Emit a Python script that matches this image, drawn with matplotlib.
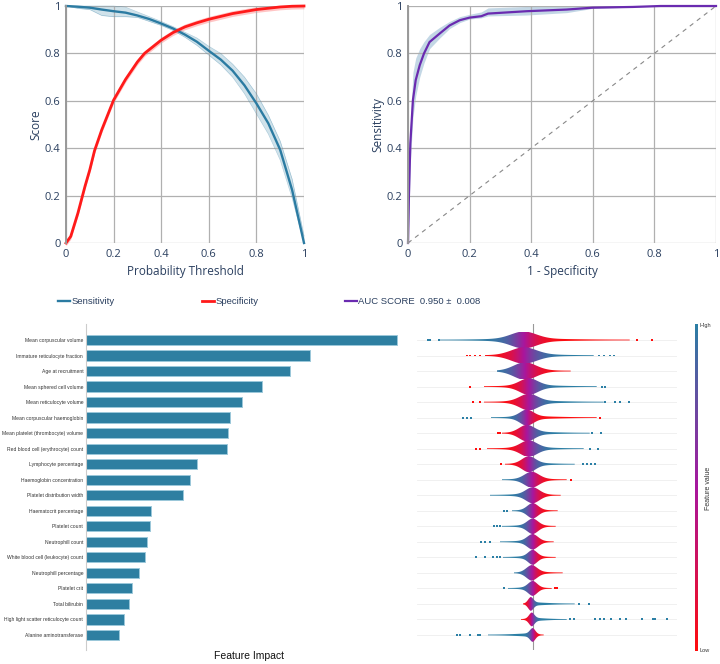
import numpy as np
import matplotlib
matplotlib.use('Agg')
import matplotlib.pyplot as plt
from matplotlib.colors import LinearSegmentedColormap
from matplotlib.patches import Polygon

plt.rcParams['font.family'] = ['Open Sans', 'DejaVu Sans']
NARROW = ['Liberation Sans Narrow', 'Liberation Sans', 'DejaVu Sans']
TXT = '#2a3f5f'

# ---- threshold curves ----
thr = [0, .05, .1, .15, .2, .25, .3, .35, .4, .45, .5, .55, .6, .65, .7, .75, .8, .85, .9, .95, 1]
sens = [1.0, 0.997, 0.993, 0.985, 0.978, 0.972, 0.960, 0.945, 0.926, 0.905, 0.879, 0.849,
        0.811, 0.774, 0.727, 0.665, 0.589, 0.505, 0.393, 0.224, 0.0]
sens_lo = [1.0, 0.99, 0.985, 0.96, 0.955, 0.955, 0.952, 0.935, 0.918, 0.897, 0.868, 0.834,
           0.793, 0.752, 0.70, 0.63, 0.545, 0.46, 0.35, 0.19, 0.0]
sens_hi = [1.0, 1.0, 1.0, 1.0, 1.0, 0.995, 0.975, 0.955, 0.935, 0.913, 0.889, 0.865,
           0.83, 0.80, 0.755, 0.70, 0.63, 0.54, 0.43, 0.27, 0.03]

thr_sp = [0, .02, .05, .08, .1, .12, .15, .2, .25, .3, .33, .4, .45, .5, .55, .6, .7, .8, .9, .95, 1]
spec = [0, 0.028, 0.126, 0.24, 0.309, 0.39, 0.477, 0.603, 0.69, 0.764, 0.80, 0.856, 0.888,
        0.912, 0.929, 0.944, 0.968, 0.985, 0.996, 0.999, 1.0]
spec_err = 0.012

# ---- ROC ----
fpr = [0, 0.003, 0.0076, 0.016, 0.025, 0.038, 0.052, 0.07, 0.103, 0.135, 0.168, 0.2, 0.238,
       0.26, 0.385, 0.515, 0.60, 0.73, 0.82, 1.0]
tpr = [0, 0.2, 0.42, 0.603, 0.687, 0.75, 0.80, 0.848, 0.884, 0.918, 0.94, 0.951, 0.957,
       0.968, 0.978, 0.985, 0.993, 0.996, 1.0, 1.0]
tpr_lo = [0, 0.12, 0.34, 0.53, 0.62, 0.70, 0.76, 0.82, 0.865, 0.905, 0.93, 0.945, 0.95,
          0.958, 0.962, 0.972, 0.99, 0.995, 1.0, 1.0]
tpr_hi = [0, 0.3, 0.5, 0.72, 0.78, 0.82, 0.85, 0.88, 0.91, 0.935, 0.955, 0.965, 0.975,
          0.992, 0.998, 0.998, 0.998, 1.0, 1.0, 1.0]
auc_mean, auc_std = 0.950, 0.008

# ---- feature importance ----
features = ['Mean corpuscular volume', 'Immature reticulocyte fraction', 'Age at recruitment',
            'Mean sphered cell volume', 'Mean reticulocyte volume', 'Mean corpuscular haemoglobin',
            'Mean platelet (thrombocyte) volume', 'Red blood cell (erythrocyte) count',
            'Lymphocyte percentage', 'Haemoglobin concentration', 'Platelet distribution width',
            'Haematocrit percentage', 'Platelet count', 'Neutrophill count',
            'White blood cell (leukocyte) count', 'Neutrophill percentage', 'Platelet crit',
            'Total bilirubin', 'High light scatter reticulocyte count', 'Alanine aminotransferase']
impact = [0.311, 0.224, 0.204, 0.176, 0.156, 0.144, 0.142, 0.141, 0.111, 0.104, 0.097,
          0.065, 0.064, 0.061, 0.059, 0.053, 0.046, 0.043, 0.038, 0.033]

# ---- shap summary (per feature) ----
shap_lo = [-0.93, -0.48, -0.36, -0.49, -0.49, -0.42, -0.31, -0.46, -0.28, -0.31, -0.43,
           -0.21, -0.31, -0.33, -0.30, -0.19, -0.25, -0.10, -0.12, -0.45]
shap_hi = [0.97, 0.61, 0.38, 0.64, 0.71, 0.64, 0.57, 0.51, 0.42, 0.34, 0.28,
           0.25, 0.23, 0.21, 0.23, 0.30, 0.19, 0.42, 0.34, 0.11]
shap_mid = [-0.09, -0.09, -0.08, -0.04, -0.04, -0.06, -0.06, -0.04, -0.04, -0.01, 0.0,
            0.0, 0.0, 0.0, 0.0, -0.01, 0.0, -0.02, -0.01, 0.0]
shap_spread = [0.28, 0.28, 0.25, 0.2, 0.2, 0.15, 0.17, 0.18, 0.15, 0.16, 0.15,
               0.12, 0.12, 0.12, 0.1, 0.12, 0.1, 0.06, 0.06, 0.06]
shap_height = [0.43, 0.42, 0.46, 0.42, 0.42, 0.4, 0.42, 0.42, 0.4, 0.4, 0.4,
               0.38, 0.38, 0.38, 0.36, 0.38, 0.36, 0.32, 0.32, 0.32]
high_on_left = [True, False, True, False, False, True, False, False, False, True, True,
                True, True, True, True, True, True, False, False, True]
outliers = [
    [-1.05, -1.03, -0.94, 1.04, 1.19],
    [-0.66, -0.63, -0.58, -0.53, 0.66, 0.71, 0.77, 0.81],
    [],
    [-0.63, 0.69, 0.72],
    [-0.60, -0.53, 0.72, 0.82, 0.87, 0.96],
    [-0.70, -0.66, -0.62, 0.67],
    [-0.35, -0.33, 0.59, 0.68],
    [-0.57, -0.53, 0.57, 0.65],
    [-0.32, 0.50, 0.54, 0.58, 0.62],
    [0.38],
    [],
    [-0.29, -0.26],
    [-0.39, -0.36, -0.33],
    [-0.52, -0.48, -0.43],
    [-0.57, -0.48, -0.40, -0.36, -0.33],
    [],
    [-0.29, 0.22, 0.24],
    [0.46, 0.56],
    [0.37, 0.41, 0.62, 0.67, 0.71, 0.78, 0.87, 0.93, 1.09, 1.20, 1.22, 1.34],
    [-0.76, -0.73, -0.63, -0.55, -0.53],
]

W, H = 720, 664
fig = plt.figure(figsize=(7.2, 6.64), dpi=100)

def box(l, t, r, b):
    return [l / W, 1 - b / H, (r - l) / W, (b - t) / H]

BLUE = '#2b7ba2'
RED = '#ff1a1a'
PURPLE = '#6a2bb0'
GRID = '#b0b0b0'

def style_top(ax):
    ax.set_xlim(0, 1)
    ax.set_ylim(0, 1)
    ticks = [0, 0.2, 0.4, 0.6, 0.8, 1]
    labs = ['0', '0.2', '0.4', '0.6', '0.8', '1']
    ax.set_xticks(ticks, labs)
    ax.set_yticks(ticks, labs)
    ax.grid(True, color=GRID, lw=0.9)
    for s in ['top', 'right', 'bottom']:
        ax.spines[s].set_visible(False)
    ax.spines['left'].set_color('#999999')
    ax.spines['left'].set_linewidth(1.4)
    ax.tick_params(length=0, labelsize=8, colors=TXT, pad=4)

ax1 = fig.add_axes(box(66, 6, 304, 243))
style_top(ax1)
ax1.fill_between(thr, sens_lo, sens_hi, color=BLUE, alpha=0.22, lw=0)
ax1.plot(thr, sens_lo, color=BLUE, lw=0.4, alpha=0.4)
ax1.plot(thr, sens_hi, color=BLUE, lw=0.4, alpha=0.4)
spec_a = np.array(spec)
ax1.fill_between(thr_sp, spec_a - spec_err, np.minimum(spec_a + spec_err, 1), color=RED, alpha=0.25, lw=0)
l_sens, = ax1.plot(thr, sens, color=BLUE, lw=1.7, label='Sensitivity')
l_spec, = ax1.plot(thr_sp, spec, color=RED, lw=2.0, label='Specificity')
ax1.set_xlabel('Probability Threshold', fontsize=8.5, color=TXT, labelpad=4)
ax1.set_ylabel('Score', fontsize=8.5, color=TXT, labelpad=2)
for l in ax1.lines + ax1.collections:
    l.set_clip_on(False)

ax2 = fig.add_axes(box(408, 6, 716, 243))
style_top(ax2)
ax2.plot([0, 1], [0, 1], color='#888888', lw=0.8, ls=(0, (4, 4)))
ax2.fill_between(fpr, tpr_lo, tpr_hi, color='#7aa7c7', alpha=0.45, lw=0)
l_auc, = ax2.plot(fpr, tpr, color=PURPLE, lw=1.6,
                  label='AUC SCORE  %.3f \u00b1  %.3f' % (auc_mean, auc_std))
l_auc.set_clip_on(False)
ax2.set_xlabel('1 - Specificity', fontsize=8.5, color=TXT, labelpad=4)
ax2.set_ylabel('Sensitivity', fontsize=8.5, color=TXT, labelpad=2)

# legends in one row under the curves
for handle, x in [(l_sens, 58), (l_spec, 202), (l_auc, 345)]:
    fig.legend(handles=[handle], loc='center left', bbox_to_anchor=(x / W, 1 - 302 / H),
               frameon=False, handlelength=1.3, handletextpad=0.1, borderaxespad=0,
               borderpad=0, prop={'family': NARROW, 'size': 6.8}, labelcolor=TXT)

# ---- bar chart ----
rows = np.arange(len(features))
ax3 = fig.add_axes(box(86, 324, 412, 650))
ax3.barh(rows, impact, height=0.66, color='#2e7fa1', edgecolor='#9cc8da', lw=0.7)
ax3.set_ylim(19.97, -1.03)
ax3.set_xlim(0, 0.326)
ax3.set_yticks(rows, features)
ax3.set_xticks([])
for s in ['top', 'right', 'bottom']:
    ax3.spines[s].set_visible(False)
ax3.spines['left'].set_color('#cccccc')
ax3.tick_params(axis='y', length=0, pad=2.0, labelsize=3.6, labelcolor='#333333')
for t in ax3.get_yticklabels():
    t.set_family(NARROW)
ax3.set_xlabel('Feature Impact', fontsize=7.5, family=NARROW, color='#111111', labelpad=1)

# ---- shap summary ----
cmap = LinearSegmentedColormap.from_list('shap', ['#ff0d0d', '#a8169e', '#2b7fa5'])
ax4 = fig.add_axes(box(417, 324, 677, 650))
ax4.axis('off')
for i in rows:
    ax4.plot([-1.157, 1.443], [i, i], color='#eeeeee', lw=0.6, zorder=0)
ax4.plot([0, 0], [-1.03, 19.97], color='#999999', lw=0.8, zorder=1)
for i in rows:
    lo, hi, c, w, h = shap_lo[i], shap_hi[i], shap_mid[i], shap_spread[i], shap_height[i]
    xs = np.linspace(lo, hi, 400)
    d = xs - c
    frac = np.where(d < 0, d / (lo - c), d / (hi - c))
    half = h * np.exp(-0.5 * (d / (0.45 * w)) ** 2) + 0.1 * np.clip(1 - frac, 0, 1) ** 2 + 0.025
    verts = np.concatenate([np.column_stack([xs, i - half]), np.column_stack([xs[::-1], i + half[::-1]])])
    poly = Polygon(verts, closed=True, fc='none', ec='none')
    ax4.add_patch(poly)
    t = 1 / (1 + np.exp(-d / (0.35 * w)))
    val = 1 - t if high_on_left[i] else t
    im = ax4.imshow(val[None, :], cmap=cmap, vmin=0, vmax=1, aspect='auto',
                    extent=(lo, hi, i + 0.5, i - 0.5), interpolation='bilinear', zorder=2)
    im.set_clip_path(poly)
    pts = np.array(outliers[i])
    if len(pts):
        left_col = cmap(1.0) if high_on_left[i] else cmap(0.0)
        right_col = cmap(0.0) if high_on_left[i] else cmap(1.0)
        cols = [left_col if p < 0 else right_col for p in pts]
        ax4.scatter(pts, np.full(len(pts), i), s=2, c=cols, marker='s', lw=0, zorder=3)
ax4.set_xlim(-1.157, 1.443)
ax4.set_ylim(19.97, -1.03)

# colorbar
cax = fig.add_axes(box(695, 324, 698, 651))
cax.imshow(np.linspace(1, 0, 256)[:, None], cmap=cmap, aspect='auto', vmin=0, vmax=1)
cax.axis('off')
fig.text(699 / W, 1 - 326 / H, 'High', fontsize=4, family=NARROW, color='#333333', va='center')
fig.text(699 / W, 1 - 650 / H, 'Low', fontsize=4, family=NARROW, color='#333333', va='center')
fig.text(709 / W, 1 - 488 / H, 'Feature value', fontsize=5, family=NARROW, color='#333333',
         rotation=90, ha='center', va='center')

fig.savefig('out.png', dpi=100)
